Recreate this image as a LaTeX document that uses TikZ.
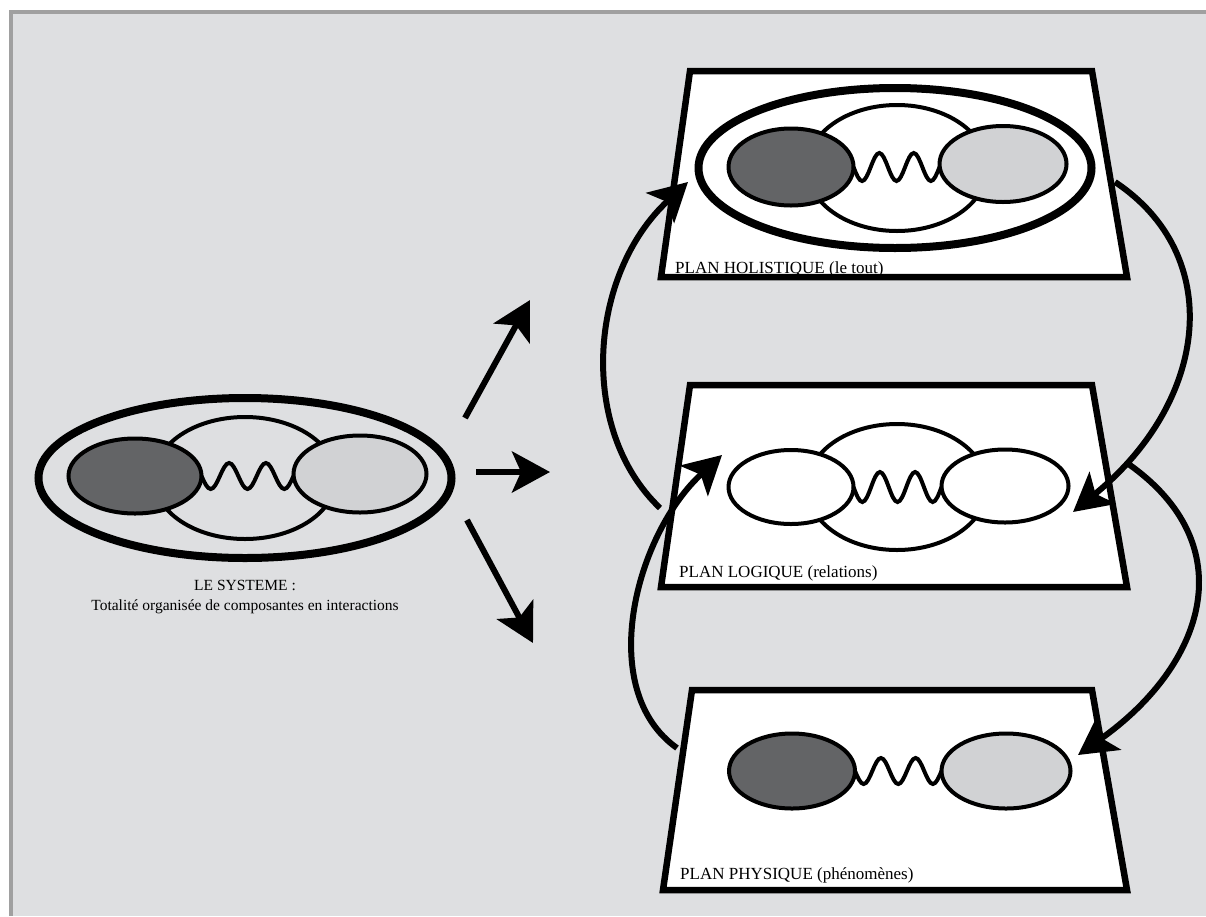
\documentclass[tikz,border=0pt]{standalone}
\usepackage{fontspec}
\setmainfont{Liberation Serif}
\usetikzlibrary{shapes.geometric, arrows.meta}

\definecolor{bggray}{RGB}{222,223,225}
\definecolor{framegray}{RGB}{160,160,160}
\definecolor{darkfill}{RGB}{99,100,102}
\definecolor{lightfill}{RGB}{209,210,212}

\begin{document}
\begin{tikzpicture}[x = 1pt, y = -1pt,
                    outershell/.style = {ellipse, draw, line width = 8pt, inner sep = 0pt, outer sep = 0pt},
                    lensline/.style = {ellipse, draw, line width = 4pt, inner sep = 0pt, outer sep = 0pt},
                    darkpart/.style = {ellipse, draw, fill = darkfill, line width = 4pt, inner sep = 0pt, outer sep = 0pt},
                    lightpart/.style = {ellipse, draw, fill = lightfill, line width = 4pt, inner sep = 0pt, outer sep = 0pt},
                    blankpart/.style = {ellipse, draw, fill = white, line width = 4pt, inner sep = 0pt, outer sep = 0pt},
                    waveline/.style = {line width = 4pt},
                    planbox/.style = {draw, fill = white, line width = 6.5pt, line join = miter},
                    bigarrow/.style = {line width = 6pt, -{Stealth[length = 38pt, width = 41pt, inset = 9pt]}},
                    plantext/.style = {anchor = west, inner sep = 0pt, font = \fontsize{17}{20}\selectfont}]

% background and frame
\fill[white] (0,0) rectangle (1206,916);
\fill[framegray] (9,10) rectangle (1206,916);
\fill[bggray] (13,14) rectangle (1206,916);
\useasboundingbox (0,0) rectangle (1206,916);

% the system
\node [outershell, minimum width = 413pt, minimum height = 160pt] (sysshell) at (245,478) {};
\node [lensline, minimum width = 182pt, minimum height = 122pt] (syslens) at (245,478) {};
\node [darkpart, minimum width = 133pt, minimum height = 75pt] (sysdark) at (135,476) {};
\node [lightpart, minimum width = 133pt, minimum height = 77pt] (syslight) at (360,474) {};
\draw[waveline] (sysdark.east) \foreach \k in {1,2} {sin ++(9.2,13) cos ++(9.2,-13) sin ++(9.2,-13) cos ++(9.2,13)}
    sin ++(9.2,13) cos ++(9.2,-13);
\node [align = center, inner sep = 0pt, font = \fontsize{15.5}{20}\selectfont] (syslabel) at (245,597)
    {LE SYSTEME :\\Totalité organisée de composantes en interactions};

% the three planes
\draw[planbox] (690,71) -- (1092,71) -- (1127,277) -- (661,277) -- cycle;
\draw[planbox] (690,385) -- (1092,385) -- (1127,587) -- (661,587) -- cycle;
\draw[planbox] (692,690) -- (1092,690) -- (1127,890) -- (663,890) -- cycle;

% plan holistique
\node [outershell, minimum width = 393pt, minimum height = 160pt] (hshell) at (895,168) {};
\node [lensline, minimum width = 180pt, minimum height = 126pt] (hlens) at (897,168) {};
\node [darkpart, minimum width = 125pt, minimum height = 77pt] (hdark) at (791,167) {};
\node [lightpart, minimum width = 127pt, minimum height = 76pt] (hlight) at (1003,164) {};
\draw[waveline] (hdark.east) \foreach \k in {1,2} {sin ++(8.6,14) cos ++(8.6,-14) sin ++(8.6,-14) cos ++(8.6,14)}
    sin ++(8.6,14) cos ++(8.6,-14);
\node [plantext] (hlabel) at (675,269) {PLAN HOLISTIQUE (le tout)};

% plan logique
\node [lensline, minimum width = 180pt, minimum height = 126pt] (llens) at (897,487) {};
\node [blankpart, minimum width = 125pt, minimum height = 74pt] (lleft) at (791,487) {};
\node [blankpart, minimum width = 127pt, minimum height = 73pt] (lright) at (1005,486) {};
\draw[waveline] (lleft.east) \foreach \k in {1,2} {sin ++(8.8,15) cos ++(8.8,-15) sin ++(8.8,-15) cos ++(8.8,15)}
    sin ++(8.8,15) cos ++(8.8,-15);
\node [plantext] (llabel) at (679,573) {PLAN LOGIQUE (relations)};

% plan physique
\node [darkpart, minimum width = 126pt, minimum height = 75pt] (pdark) at (792,771) {};
\node [lightpart, minimum width = 129pt, minimum height = 75pt] (plight) at (1006,771) {};
\draw[waveline] (pdark.east) \foreach \k in {1,2} {sin ++(8.65,13) cos ++(8.65,-13) sin ++(8.65,-13) cos ++(8.65,13)}
    sin ++(8.65,13) cos ++(8.65,-13);
\node [plantext] (plabel) at (680,875) {PLAN PHYSIQUE (phénomènes)};

% arrows out of the system
\coordinate (upfrom) at (465,418);
\coordinate (upto) at (530,300);
\coordinate (midfrom) at (476,472);
\coordinate (midto) at (550,472);
\coordinate (downfrom) at (467,520);
\coordinate (downto) at (533,643);
\draw[bigarrow] (upfrom) -- (upto);
\draw[bigarrow] (midfrom) -- (midto);
\draw[bigarrow] (downfrom) -- (downto);

% arrows between the planes
\coordinate (ltoh) at (660,508);
\coordinate (ltohtip) at (688,182);
\coordinate (ptol) at (677,748);
\coordinate (ptoltip) at (722,455);
\coordinate (htol) at (1115,182);
\coordinate (htoltip) at (1073,512);
\coordinate (ltop) at (1127,463);
\coordinate (ltoptip) at (1078,755);
\draw[bigarrow] (ltoh) .. controls (578,430) and (588,275) .. (ltohtip);
\draw[bigarrow] (ptol) .. controls (595,690) and (635,535) .. (ptoltip);
\draw[bigarrow] (htol) .. controls (1225,255) and (1210,400) .. (htoltip);
\draw[bigarrow] (ltop) .. controls (1245,545) and (1205,665) .. (ltoptip);
\end{tikzpicture}
\end{document}
